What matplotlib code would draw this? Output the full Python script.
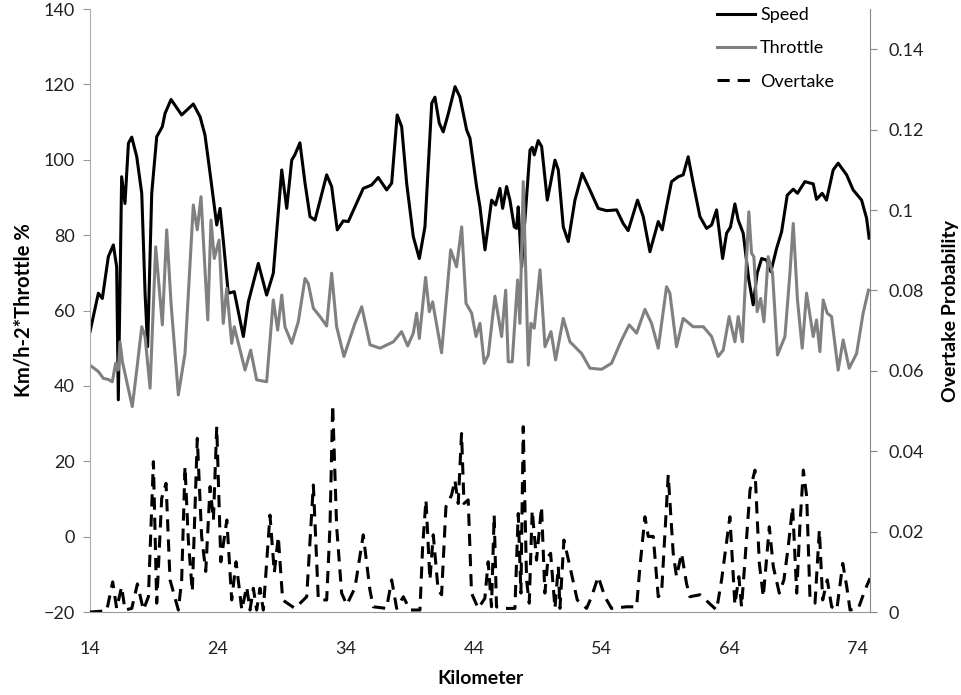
import matplotlib.pyplot as plt
import matplotlib as mpl

mpl.rcParams["font.family"] = ["Lato", "DejaVu Sans"]
mpl.rcParams["font.size"] = 13

# Speed (km/h) ---------------------------------------------------------------
speed_km = [14.0, 14.65, 14.96, 15.43, 15.82, 16.08, 16.21, 16.47, 16.73, 17.0,
            17.26, 17.65, 18.04, 18.3, 18.5, 18.82, 19.21, 19.65, 19.86, 20.33,
            21.16, 22.07, 22.6, 22.98, 23.38, 23.9, 24.16, 24.41, 24.8, 25.27,
            25.98, 26.37, 27.15, 27.8, 28.32, 28.98, 29.37, 29.76, 30.0, 30.4,
            30.8, 31.19, 31.58, 32.49, 32.88, 33.32, 33.79, 34.18, 35.35, 36.0,
            36.52, 37.18, 37.57, 38.0, 38.35, 38.74, 39.26, 39.73, 40.17, 40.7,
            40.95, 41.29, 41.6, 42.0, 42.52, 42.9, 43.43, 43.69, 44.2, 44.47,
            44.86, 45.38, 45.69, 46.03, 46.24, 46.55, 46.81, 47.15, 47.33, 47.46,
            47.72, 47.98, 48.38, 48.56, 48.71, 49.02, 49.29, 49.73, 50.33, 50.59,
            50.98, 51.37, 51.89, 52.46, 53.06, 53.71, 54.36, 55.15, 55.66, 56.05,
            56.78, 57.23, 57.75, 58.4, 58.71, 59.05, 59.44, 59.96, 60.35, 60.74,
            61.13, 61.66, 62.18, 62.57, 62.96, 63.43, 63.74, 64.05, 64.39, 64.65,
            65.04, 65.48, 65.82, 66.13, 66.48, 66.86, 67.2, 67.65, 68.04, 68.48,
            68.95, 69.28, 69.86, 70.51, 70.77, 71.21, 71.55, 72.07, 72.46, 73.12,
            73.63, 74.29, 74.68, 74.88]
speed = [54.4, 64.6, 63.2, 74.3, 77.4, 71.6, 36.3, 95.5, 88.4, 104.4,
         106.0, 100.8, 91.1, 64.6, 50.4, 91.1, 106.1, 108.8, 112.3, 116.0,
         111.9, 114.8, 111.4, 106.6, 96.4, 82.7, 87.1, 78.7, 64.6, 65.0,
         53.1, 62.3, 72.5, 64.1, 69.9, 97.3, 87.1, 99.9, 101.3, 104.5,
         93.8, 84.9, 84.0, 96.0, 92.9, 81.4, 83.8, 83.6, 92.4, 93.3,
         95.3, 92.0, 93.8, 111.9, 108.8, 93.8, 79.6, 73.8, 82.2, 115.0,
         116.6, 109.7, 107.4, 112.3, 119.4, 116.7, 107.9, 105.7, 93.0, 87.5,
         76.1, 89.3, 88.0, 92.4, 87.1, 92.9, 89.3, 82.2, 81.8, 87.5,
         71.6, 84.0, 102.6, 103.3, 101.3, 105.1, 103.5, 89.3, 99.9, 97.3,
         82.2, 78.3, 89.3, 96.4, 92.0, 87.1, 86.5, 86.7, 83.1, 81.2,
         89.3, 84.9, 75.6, 83.6, 81.4, 87.5, 94.2, 95.5, 96.0, 100.8,
         93.8, 84.9, 81.8, 82.7, 86.7, 73.8, 80.5, 82.2, 88.3, 84.0,
         80.5, 68.1, 61.5, 69.9, 73.8, 73.4, 70.3, 76.5, 80.9, 90.6,
         92.2, 91.1, 94.2, 93.6, 89.5, 91.1, 89.3, 97.3, 99.1, 96.0,
         92.0, 89.3, 84.5, 79.2]

# Throttle ------------------------------------------------------------------
thr_km = [14.0, 14.65, 15.04, 15.43, 15.74, 16.0, 16.21, 16.34, 16.53, 16.73,
          17.3, 17.65, 18.04, 18.3, 18.69, 19.13, 19.65, 19.99, 20.33, 20.9,
          21.42, 22.07, 22.38, 22.67, 23.2, 23.45, 23.71, 24.08, 24.41, 24.68,
          25.07, 25.27, 26.11, 26.55, 27.02, 27.8, 28.32, 28.66, 28.98, 29.23,
          29.76, 30.27, 30.8, 31.05, 31.45, 31.97, 32.49, 32.88, 33.27, 33.84,
          34.7, 35.23, 35.88, 36.66, 37.7, 38.35, 38.82, 39.26, 39.52, 39.73,
          40.22, 40.51, 40.77, 41.47, 42.18, 42.64, 43.04, 43.38, 43.82, 44.16,
          44.47, 44.8, 45.12, 45.64, 46.16, 46.48, 46.68, 46.99, 47.41, 47.59,
          47.85, 48.25, 48.45, 48.71, 49.16, 49.55, 50.02, 50.38, 50.98, 51.5,
          52.41, 53.06, 53.97, 54.75, 55.54, 56.13, 56.71, 57.36, 57.88, 58.4,
          59.05, 59.31, 59.83, 60.35, 61.13, 61.92, 62.57, 63.08, 63.48, 63.94,
          64.39, 64.65, 64.98, 65.48, 65.69, 65.87, 66.13, 66.4, 66.66, 66.99,
          67.33, 67.72, 68.3, 68.69, 68.95, 69.28, 69.65, 69.99, 70.51, 70.77,
          71.03, 71.29, 71.6, 71.94, 72.46, 72.85, 73.32, 73.9, 74.41, 74.83]
throttle = [45.5, 43.8, 42.0, 41.7, 41.1, 46.0, 44.2, 51.7, 46.4, 43.3,
            34.5, 44.2, 55.7, 53.1, 39.4, 76.9, 56.2, 81.4, 61.9, 37.6,
            48.6, 88.0, 81.4, 90.2, 57.5, 84.0, 73.8, 78.7, 56.6, 65.9,
            51.3, 55.7, 44.2, 49.5, 41.6, 41.1, 62.8, 54.8, 64.1, 55.7,
            51.3, 57.0, 68.5, 67.2, 60.6, 58.4, 55.9, 69.9, 55.7, 47.8,
            56.6, 61.0, 50.9, 50.0, 51.7, 54.4, 50.6, 54.0, 59.3, 52.6,
            68.8, 59.7, 62.3, 48.8, 76.1, 71.6, 82.2, 61.9, 59.3, 53.1,
            56.6, 46.0, 48.2, 63.8, 53.1, 65.4, 46.4, 46.4, 68.1, 56.6,
            94.2, 45.5, 56.6, 55.3, 70.8, 50.4, 54.4, 46.9, 57.9, 51.7,
            48.6, 44.7, 44.4, 46.0, 52.2, 56.2, 54.0, 60.3, 56.6, 50.0,
            66.3, 64.6, 50.4, 57.9, 55.7, 55.7, 53.1, 47.8, 49.5, 58.4,
            51.7, 58.4, 51.7, 86.2, 75.2, 74.3, 59.7, 63.2, 57.0, 74.3,
            69.9, 48.2, 53.1, 69.9, 83.1, 62.8, 50.0, 64.6, 53.1, 57.5,
            49.1, 62.8, 59.3, 58.4, 44.2, 52.2, 44.7, 48.6, 59.3, 65.4]

# Overtake probability --------------------------------------------------------
ovt_km = [14.0, 15.3, 15.77, 16.08, 16.47, 16.73, 17.26, 17.7, 18.17, 18.56,
          18.95, 19.21, 19.6, 19.94, 20.25, 20.9, 21.16, 21.42, 21.68, 21.99,
          22.38, 22.72, 23.04, 23.38, 23.64, 23.9, 24.22, 24.69, 25.07, 25.41,
          25.86, 26.24, 26.5, 26.76, 27.02, 27.28, 27.54, 28.06, 28.4, 28.71,
          29.05, 30.01, 30.93, 31.45, 31.84, 32.49, 32.75, 32.96, 33.27, 33.66,
          34.06, 34.7, 35.35, 35.87, 36.13, 37.17, 37.57, 37.96, 38.48, 39.0,
          39.78, 39.99, 40.25, 40.56, 40.82, 41.2, 41.47, 41.81, 42.25, 42.51,
          42.77, 43.03, 43.22, 43.55, 43.81, 44.33, 44.85, 45.11, 45.37, 45.58,
          45.76, 46.29, 47.2, 47.46, 47.67, 47.85, 48.11, 48.32, 48.55, 48.89,
          49.28, 49.54, 49.8, 49.99, 50.33, 50.59, 50.72, 51.03, 51.5, 52.07,
          52.8, 53.19, 53.71, 54.23, 54.75, 55.92, 56.71, 56.97, 57.36, 57.62,
          58.01, 58.4, 58.66, 58.92, 59.18, 59.57, 59.83, 60.22, 60.61, 60.87,
          61.66, 62.96, 63.35, 64.0, 64.39, 64.7, 64.91, 65.18, 65.57, 65.96,
          66.3, 66.61, 67.08, 67.39, 67.86, 68.22, 68.56, 68.9, 69.22, 69.48,
          69.74, 70.0, 70.26, 70.65, 70.99, 71.25, 71.61, 71.95, 72.35, 72.82,
          73.13, 73.39, 74.04, 74.56, 74.95]
overtake = [0.0, 0.0003, 0.0075, 0.0009, 0.0063, 0.0005, 0.0009, 0.0070, 0.0005, 0.0038,
            0.0374, 0.0022, 0.0283, 0.0320, 0.0080, 0.0005, 0.0080, 0.0362, 0.0179, 0.0051,
            0.0432, 0.0188, 0.0101, 0.0312, 0.0229, 0.0461, 0.0125, 0.0229, 0.0030, 0.0125,
            0.0005, 0.0063, 0.0005, 0.0059, 0.0005, 0.0059, 0.0005, 0.0241, 0.0098, 0.0188,
            0.0030, 0.0009, 0.0038, 0.0316, 0.0030, 0.0030, 0.0212, 0.0515, 0.0212, 0.0047,
            0.0018, 0.0060, 0.0192, 0.0055, 0.0013, 0.0009, 0.0080, 0.0009, 0.0038, 0.0005,
            0.0005, 0.0163, 0.0279, 0.0080, 0.0192, 0.0055, 0.0043, 0.0262, 0.0291, 0.0328,
            0.0270, 0.0444, 0.0270, 0.0279, 0.0047, 0.0009, 0.0034, 0.0125, 0.0013, 0.0241,
            0.0013, 0.0009, 0.0009, 0.0245, 0.0047, 0.0461, 0.0080, 0.0022, 0.0253, 0.0129,
            0.0262, 0.0047, 0.0138, 0.0146, 0.0009, 0.0113, 0.0009, 0.0179, 0.0113, 0.0030,
            0.0009, 0.0038, 0.0088, 0.0038, 0.0009, 0.0013, 0.0013, 0.0113, 0.0237, 0.0188,
            0.0188, 0.0038, 0.0047, 0.0196, 0.0341, 0.0146, 0.0088, 0.0146, 0.0071, 0.0038,
            0.0043, 0.0005, 0.0080, 0.0237, 0.0018, 0.0088, 0.0013, 0.0129, 0.0303, 0.0353,
            0.0121, 0.0038, 0.0212, 0.0113, 0.0047, 0.0080, 0.0163, 0.0262, 0.0047, 0.0221,
            0.0353, 0.0287, 0.0034, 0.0022, 0.0204, 0.0030, 0.0080, 0.0013, 0.0005, 0.0121,
            0.0063, 0.0005, 0.0009, 0.0055, 0.0084]

x_ticks = [14, 24, 34, 44, 54, 64, 74]
left_ticks = [-20, 0, 20, 40, 60, 80, 100, 120, 140]
right_ticks = [0, 0.02, 0.04, 0.06, 0.08, 0.1, 0.12, 0.14]
right_labels = ["0", "0.02", "0.04", "0.06", "0.08", "0.1", "0.12", "0.14"]

fig = plt.figure(figsize=(9.62, 6.95), dpi=100)
ax = fig.add_axes([0.0936, 0.1194, 0.8108, 0.8676])
ax2 = ax.twinx()

l1, = ax.plot(speed_km, speed, color="black", lw=2.2, label="Speed")
l2, = ax.plot(thr_km, throttle, color="#808080", lw=2.2, label="Throttle")
l3, = ax2.plot(ovt_km, overtake, color="black", lw=2.2, dashes=(4, 2.6), label="Overtake")

ax.set_xlim(14, 74.95)
ax.set_ylim(-20, 140)
ax2.set_ylim(0, 0.15)

ax.set_xticks(x_ticks)
ax.set_yticks(left_ticks)
ax2.set_yticks(right_ticks)
ax2.set_yticklabels(right_labels)

ax.tick_params(axis="x", length=0, pad=21, colors="#222222")
ax.tick_params(axis="y", length=5, color="#999999", pad=6, labelcolor="#222222")
ax2.tick_params(axis="y", length=5, color="#888888", pad=8, labelcolor="#222222")

for a in (ax, ax2):
    a.spines["top"].set_visible(False)
ax.spines["right"].set_visible(False)
ax2.spines["left"].set_visible(False)
ax2.spines["bottom"].set_visible(False)
ax.spines["left"].set_color("#aaaaaa")
ax.spines["bottom"].set_color("#999999")
ax2.spines["right"].set_color("#888888")

ax.set_xlabel("Kilometer", fontweight="bold", fontsize=14, labelpad=9)
ax.set_ylabel("Km/h-2*Throttle %", fontweight="bold", fontsize=14.5, labelpad=7)
ax2.set_ylabel("Overtake Probability", fontweight="bold", fontsize=14, labelpad=13)

ax2.legend(handles=[l1, l2, l3], loc="upper left", bbox_to_anchor=(0.783, 1.03),
           frameon=False, handlelength=2.1, handletextpad=0.28, labelspacing=0.95)

fig.savefig("out.png", dpi=100)
